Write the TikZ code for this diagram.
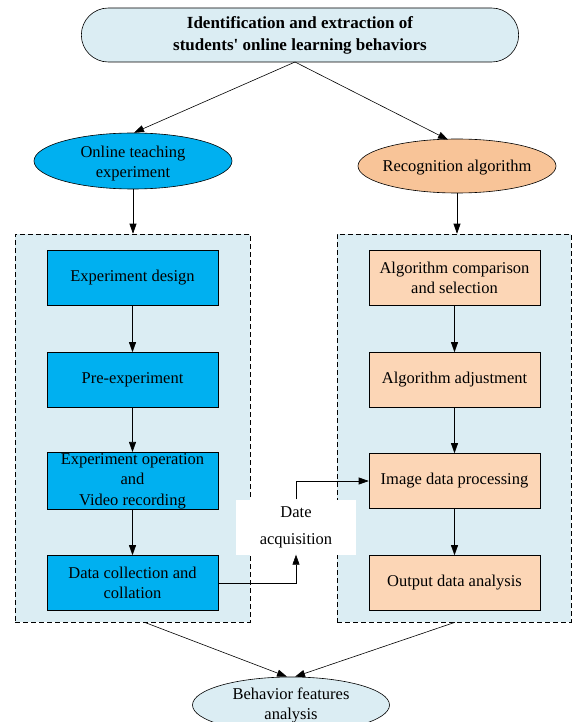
\documentclass[tikz,border=0pt]{standalone}
\usepackage{fontspec}
\setmainfont{Liberation Serif}[Ligatures=TeXOff]
\usetikzlibrary{arrows.meta,shapes.geometric,shapes.misc}
\definecolor{lblue}{RGB}{219,237,243}
\definecolor{cyanb}{RGB}{0,176,240}
\definecolor{peach}{RGB}{248,196,152}
\definecolor{lpeach}{RGB}{252,214,182}
\tikzset{
  txt/.style={font=\fontsize{16.5}{20}\selectfont, align=center},
  arr/.style={-{Triangle[length=10pt,width=7pt]}, line width=0.6pt},
  cbox/.style={txt, draw, line width=0.6pt, fill=cyanb, minimum width=171pt, minimum height=55pt, inner sep=1pt},
  pbox/.style={txt, draw, line width=0.6pt, fill=lpeach, minimum width=171pt, minimum height=55pt, inner sep=1pt},
  dbox/.style={draw, dash pattern=on 5pt off 3pt, line width=0.6pt, fill=lblue},
  ell/.style={txt, ellipse, draw, line width=0.6pt, inner sep=0pt}
}
\begin{document}
\begin{tikzpicture}[x=1pt,y=-1pt]
\useasboundingbox (0,0) rectangle (573,722);
% top
\node[rounded rectangle, draw, line width=0.6pt, fill=lblue, minimum width=444pt, minimum height=54pt,
  font=\fontsize{17}{22}\selectfont\bfseries, align=center] (top) at (300,35)
  {Identification and extraction of\\students' online learning behaviors};
\coordinate (ts) at (295,62);
% ellipses
\node[ell, fill=cyanb, minimum width=198pt, minimum height=56pt] (ote) at (133,161) {};
\node[txt] (otet) at (133,164) {Online teaching\\experiment};
\node[ell, fill=peach, minimum width=198pt, minimum height=54pt] (rec) at (457,166) {};
\node[txt] (rect) at (457,168) {Recognition algorithm};
% dashed boxes
\node[dbox, minimum width=235pt, minimum height=388pt] (L) at (132.5,428) {};
\node[dbox, minimum width=234pt, minimum height=388pt] (R) at (454,428) {};
% left boxes
\node[cbox] (l1) at (132.5,278) {Experiment design};
\node[cbox] (l2) at (132.5,380) {Pre-experiment};
\node[cbox, font=\fontsize{16.5}{20.5}\selectfont] (l3) at (132.5,481) {Experiment operation\\and\\Video recording};
\node[cbox] (l4) at (132.5,583) {Data collection and\\collation};
% right boxes
\node[pbox] (r1) at (454.5,278) {Algorithm comparison\\and selection};
\node[pbox] (r2) at (454.5,380) {Algorithm adjustment};
\node[pbox] (r3) at (454.5,481) {Image data processing};
\node[pbox] (r4) at (454.5,583) {Output data analysis};
% date acquisition
\node[txt, fill=white, minimum width=120pt, minimum height=55pt, font=\fontsize{16.5}{27}\selectfont] (da) at (296,527) {Date\\acquisition};
% bottom ellipse
\node[ell, fill=lblue, minimum width=197pt, minimum height=56pt] (bf) at (291,705) {Behavior features\\analysis};
% arrows
\draw[arr] (ts) -- ([xshift=1pt]ote.north);
\draw[arr] (ts) -- ([xshift=-9pt,yshift=-1pt]rec.north);
\draw[arr] (ote.south) -- (ote.south |- L.north);
\draw[arr] (rec.south) -- (rec.south |- R.north);
\draw[arr] (l1) -- (l2);
\draw[arr] (l2) -- (l3);
\draw[arr] (l3) -- (l4);
\draw[arr] (r1) -- (r2);
\draw[arr] (r2) -- (r3);
\draw[arr] (r3) -- (r4);
\draw[arr] (l4.east) -| (da.south);
\draw[arr] (da.north) |- (r3.west);
\draw[arr] ([xshift=12pt]L.south) -- ([xshift=-4pt]bf.north);
\draw[arr] ([xshift=1pt]R.south) -- ([xshift=4pt]bf.north);
\end{tikzpicture}
\end{document}
